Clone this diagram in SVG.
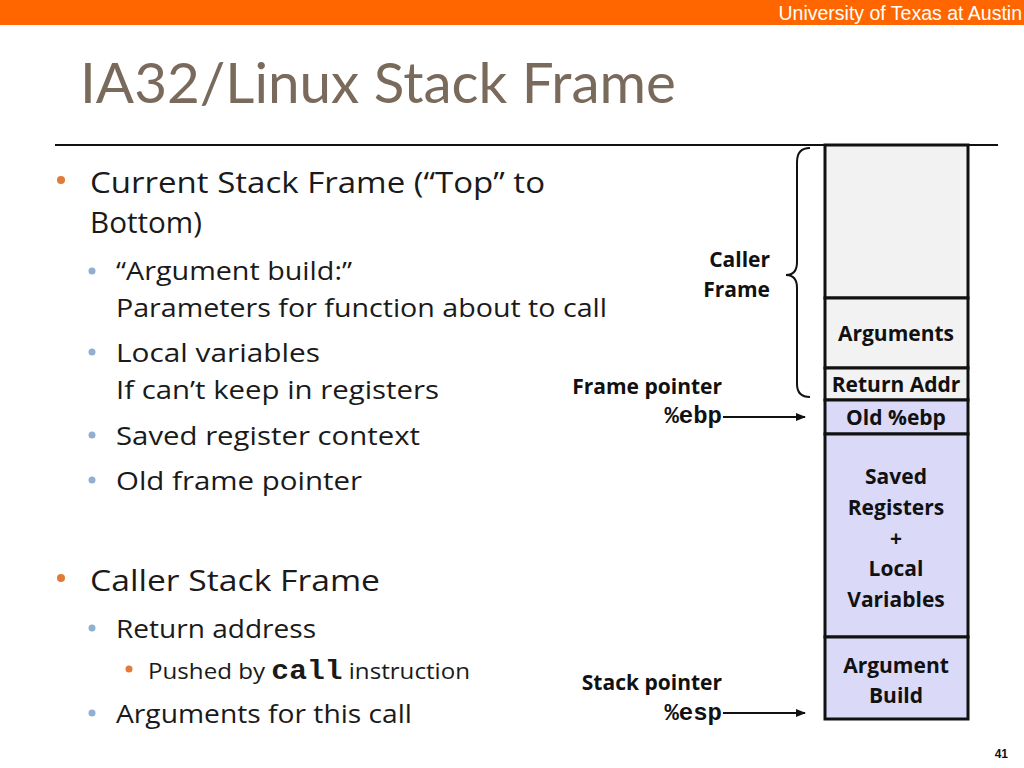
<svg xmlns="http://www.w3.org/2000/svg" width="1024" height="768" viewBox="0 0 1024 768">
<style>
.body{font-family:"Open Sans",Lato,sans-serif;fill:#1a1a1a}
.l1{font-size:29px}
.l2{font-size:25px}
.l3{font-size:22px}
.lbl{font-family:"Open Sans","Noto Sans",sans-serif;font-weight:bold;font-size:21px;fill:#111}
.mono{font-family:"Liberation Mono",monospace;font-weight:bold}
.cell{stroke:#111;stroke-width:3}
.gray{fill:#f2f2f2}
.blue{fill:#dadaf8}
.conn{stroke:#111;stroke-width:2;fill:none}
</style>
<defs>
<marker id="ah" markerWidth="10" markerHeight="8" refX="9" refY="4" orient="auto" markerUnits="userSpaceOnUse">
<path d="M0,0 L10,4 L0,8 Z" fill="#111"/>
</marker>
</defs>
<rect x="0" y="0" width="1024" height="768" fill="#fff"/>
<rect x="0" y="0" width="1024" height="25" fill="#ff6600"/>
<text x="1022" y="20" text-anchor="end" font-family="Liberation Sans,Arial,sans-serif" font-size="19.5" fill="#fff">University of Texas at Austin</text>
<text x="80" y="103" font-family="Lato,'Open Sans',sans-serif" font-size="56" fill="#7a6a5c" textLength="596" lengthAdjust="spacingAndGlyphs">IA32/Linux Stack Frame</text>
<line x1="55" y1="145" x2="998" y2="145" stroke="#111" stroke-width="2"/>

<g id="bullets">
<circle cx="61" cy="180" r="4" fill="#e07b39"/>
<text class="body l1" x="90" y="193" textLength="455" lengthAdjust="spacingAndGlyphs">Current Stack Frame (“Top” to</text>
<text class="body l1" x="90" y="233" textLength="112" lengthAdjust="spacingAndGlyphs">Bottom)</text>
<circle cx="92" cy="271" r="3.5" fill="#8fb0d0"/>
<text class="body l2" x="116" y="280" textLength="236" lengthAdjust="spacingAndGlyphs">“Argument build:”</text>
<text class="body l2" x="116" y="317" textLength="491" lengthAdjust="spacingAndGlyphs">Parameters for function about to call</text>
<circle cx="92" cy="352" r="3.5" fill="#8fb0d0"/>
<text class="body l2" x="116" y="362" textLength="204" lengthAdjust="spacingAndGlyphs">Local variables</text>
<text class="body l2" x="116" y="399" textLength="323" lengthAdjust="spacingAndGlyphs">If can’t keep in registers</text>
<circle cx="92" cy="435" r="3.5" fill="#8fb0d0"/>
<text class="body l2" x="116" y="445" textLength="304" lengthAdjust="spacingAndGlyphs">Saved register context</text>
<circle cx="92" cy="480" r="3.5" fill="#8fb0d0"/>
<text class="body l2" x="116" y="490" textLength="246" lengthAdjust="spacingAndGlyphs">Old frame pointer</text>
<circle cx="61" cy="578" r="4" fill="#e07b39"/>
<text class="body l1" x="90" y="591" textLength="290" lengthAdjust="spacingAndGlyphs">Caller Stack Frame</text>
<circle cx="92" cy="628" r="3.5" fill="#8fb0d0"/>
<text class="body l2" x="116" y="638" textLength="200" lengthAdjust="spacingAndGlyphs">Return address</text>
<circle cx="129" cy="669" r="3.5" fill="#e07b39"/>
<text class="body l3" x="148" y="679" textLength="322" lengthAdjust="spacingAndGlyphs">Pushed by <tspan class="mono" font-size="27">call</tspan> instruction</text>
<circle cx="92" cy="713" r="3.5" fill="#8fb0d0"/>
<text class="body l2" x="116" y="723" textLength="296" lengthAdjust="spacingAndGlyphs">Arguments for this call</text>
</g>

<g id="caller-frame-cell"><rect class="cell gray" x="825" y="145" width="143" height="153"/></g>
<g id="arguments"><rect class="cell gray" x="825" y="298" width="143" height="70"/>
<text class="lbl" x="896" y="341" text-anchor="middle">Arguments</text></g>
<g id="return-addr"><rect class="cell gray" x="825" y="368" width="143" height="32"/>
<text class="lbl" x="896" y="392" text-anchor="middle">Return Addr</text></g>
<g id="old-ebp"><rect class="cell blue" x="825" y="400" width="143" height="34"/>
<text class="lbl" x="896" y="425" text-anchor="middle">Old %ebp</text></g>
<g id="saved-regs"><rect class="cell blue" x="825" y="434" width="143" height="203"/>
<text class="lbl" x="896" y="484" text-anchor="middle">Saved</text>
<text class="lbl" x="896" y="515" text-anchor="middle">Registers</text>
<text class="lbl" x="896" y="546" text-anchor="middle">+</text>
<text class="lbl" x="896" y="576" text-anchor="middle">Local</text>
<text class="lbl" x="896" y="607" text-anchor="middle">Variables</text></g>
<g id="argument-build"><rect class="cell blue" x="825" y="637" width="143" height="82"/>
<text class="lbl" x="896" y="673" text-anchor="middle">Argument</text>
<text class="lbl" x="896" y="703" text-anchor="middle">Build</text></g>

<g id="caller-frame-label">
<text class="lbl" x="770" y="267" text-anchor="end">Caller</text>
<text class="lbl" x="770" y="297" text-anchor="end">Frame</text>
</g>
<g id="frame-pointer">
<text class="lbl" x="722" y="394" text-anchor="end">Frame pointer</text>
<text class="mono" x="722" y="423" text-anchor="end" font-size="24" fill="#111">%ebp</text>
</g>
<g id="stack-pointer">
<text class="lbl" x="722" y="690" text-anchor="end">Stack pointer</text>
<text class="mono" x="722" y="720" text-anchor="end" font-size="24" fill="#111">%esp</text>
</g>

<g id="connectors">
<path class="conn" d="M810,148 Q797,148 797,162 L797,262 Q797,275 786,275 Q797,275 797,288 L797,384 Q797,397 810,397"/>
<line class="conn" x1="723" y1="417" x2="805" y2="417" marker-end="url(#ah)"/>
<line class="conn" x1="723" y1="713" x2="805" y2="713" marker-end="url(#ah)"/>
</g>
<text x="1008" y="758" text-anchor="end" font-family="Liberation Sans,Arial,sans-serif" font-weight="bold" font-size="12" fill="#111">41</text>
</svg>
